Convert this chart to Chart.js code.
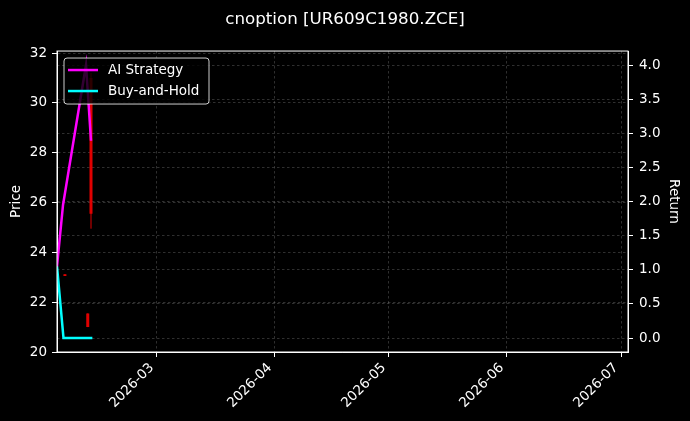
<!DOCTYPE html>
<html>
<head>
<meta charset="utf-8">
<script src="https://cdn.jsdelivr.net/npm/chart.js@4.4.1/dist/chart.umd.min.js"></script>
<style>
  html, body { margin: 0; padding: 0; background: #000; }
  #wrap { width: 690px; height: 421px; }
</style>
</head>
<body>
<div id="wrap"><canvas id="chart" width="690" height="421"></canvas></div>
<script>
const chartTitle = 'cnoption [UR609C1980.ZCE]';

// return curves (right axis)
const strategyDates = ['2026-02-02T18:00', '2026-02-04T08:00', '2026-02-10T09:00', '2026-02-11T16:30'];
const strategyReturn = [1.05, 1.95, 4.0, 2.89];
const holdDates = ['2026-02-02T18:00', '2026-02-04T11:00', '2026-02-12T01:00'];
const holdReturn = [1.05, 0.0, 0.0];

// price candles (left axis)
const candleDates = ['2026-02-04T20:00', '2026-02-10T20:00', '2026-02-11T16:30'];
const candleOpen = [23.12, 21.55, 31.0];
const candleHigh = [23.12, 21.55, 31.2];
const candleLow = [23.05, 21.0, 24.95];
const candleClose = [23.05, 21.0, 25.55];

// axes
const xRange = ['2026-02-02T18:00', '2026-07-02T20:00'];
const monthTicks = ['2026-03-01', '2026-04-01', '2026-05-01', '2026-06-01', '2026-07-01'];
const priceRange = [20, 32.08];
const priceTicks = [20, 22, 24, 26, 28, 30, 32];
const returnRange = [-0.205, 4.205];
const returnTicks = [0, 0.5, 1, 1.5, 2, 2.5, 3, 3.5, 4];

const ts = s => new Date((s.length === 10 ? s + 'T00:00' : s) + 'Z').getTime();
const pts = (dates, vals) => dates.map((d, i) => ({ x: ts(d), y: vals[i] }));

const wickData = [];
const bodyData = [];
candleDates.forEach((d, i) => {
  const x = ts(d);
  wickData.push({ x, y: candleLow[i] }, { x, y: candleHigh[i] }, { x, y: null });
  bodyData.push({ x, y: candleOpen[i] }, { x, y: candleClose[i] }, { x, y: null });
});

Chart.defaults.font.family = 'DejaVu Sans';
Chart.defaults.font.size = 13.5;
Chart.defaults.color = '#fff';

const gridCommon = {
  color: 'rgba(150,150,150,0.45)',
  lineWidth: 0.7,
  tickColor: '#fff',
  tickLength: 5,
  tickWidth: 1,
  tickBorderDash: []
};
const borderCommon = { color: '#fff', width: 1, dash: [2.5, 2.5] };

const bgPlugin = {
  id: 'bg',
  beforeDraw(chart) {
    const ctx = chart.ctx;
    ctx.save();
    ctx.fillStyle = '#000';
    ctx.fillRect(0, 0, chart.width, chart.height);
    ctx.restore();
  },
  afterDraw(chart) {
    const { ctx, chartArea: a } = chart;
    ctx.save();
    ctx.strokeStyle = '#fff';
    ctx.lineWidth = 1;
    ctx.strokeRect(a.left, a.top, a.right - a.left, a.bottom - a.top);
    ctx.restore();
  }
};

const legendPlugin = {
  id: 'boxLegend',
  afterDatasetsDraw(chart) {
    const { ctx, chartArea: a } = chart;
    const items = chart.data.datasets.filter(d => d.inLegend);
    const x = a.left + 7, y = a.top + 7, w = 145, h = 46, r = 3;
    ctx.save();
    ctx.beginPath();
    ctx.roundRect(x, y, w, h, r);
    ctx.fillStyle = 'rgba(0,0,0,0.8)';
    ctx.fill();
    ctx.strokeStyle = 'rgba(255,255,255,0.8)';
    ctx.lineWidth = 1;
    ctx.stroke();
    ctx.font = '13.5px "DejaVu Sans"';
    ctx.textBaseline = 'middle';
    items.forEach((d, i) => {
      const rowY = y + 12 + i * 21;
      ctx.beginPath();
      ctx.moveTo(x + 4, rowY);
      ctx.lineTo(x + 34, rowY);
      ctx.strokeStyle = d.borderColor;
      ctx.lineWidth = d.borderWidth;
      ctx.stroke();
      ctx.fillStyle = '#fff';
      ctx.fillText(d.label, x + 44, rowY);
    });
    ctx.restore();
  }
};

new Chart(document.getElementById('chart'), {
  type: 'line',
  data: {
    datasets: [
      {
        label: 'AI Strategy',
        inLegend: true,
        data: pts(strategyDates, strategyReturn),
        yAxisID: 'y1',
        borderColor: '#ff00ff',
        borderWidth: 2.5,
        pointRadius: 0,
        tension: 0,
        order: 1
      },
      {
        label: 'Buy-and-Hold',
        inLegend: true,
        data: pts(holdDates, holdReturn),
        yAxisID: 'y1',
        borderColor: '#00ffff',
        borderWidth: 2.5,
        pointRadius: 0,
        tension: 0,
        order: 2
      },
      {
        label: 'wick',
        data: wickData,
        yAxisID: 'y',
        borderColor: '#e00000',
        borderWidth: 1,
        pointRadius: 0,
        spanGaps: false,
        order: 3
      },
      {
        label: 'body',
        data: bodyData,
        yAxisID: 'y',
        borderColor: '#e00000',
        borderWidth: 3,
        borderCapStyle: 'butt',
        pointRadius: 0,
        spanGaps: false,
        order: 3
      }
    ]
  },
  options: {
    responsive: false,
    animation: false,
    devicePixelRatio: 1,
    layout: { padding: 0 },
    plugins: {
      legend: { display: false },
      tooltip: { enabled: false },
      title: {
        display: true,
        text: chartTitle,
        color: '#fff',
        font: { size: 16.7, weight: 'normal' },
        padding: { top: 10, bottom: 21 }
      }
    },
    scales: {
      x: {
        type: 'linear',
        min: ts(xRange[0]),
        max: ts(xRange[1]),
        afterBuildTicks: s => { s.ticks = monthTicks.map(m => ({ value: ts(m) })); },
        afterFit: s => { s.height = 69; },
        grid: gridCommon,
        border: borderCommon,
        ticks: {
          minRotation: 45,
          maxRotation: 45,
          padding: 3,
          labelOffset: -5,
          color: '#fff',
          callback: v => new Date(v).toISOString().slice(0, 7)
        }
      },
      y: {
        position: 'left',
        min: priceRange[0],
        max: priceRange[1],
        afterBuildTicks: s => { s.ticks = priceTicks.map(v => ({ value: v })); },
        afterFit: s => { s.width = 57; },
        grid: gridCommon,
        border: borderCommon,
        ticks: { padding: 5, color: '#fff', callback: v => String(v) },
        title: { display: true, text: 'Price', color: '#fff', font: { size: 13.5 }, padding: { top: 8, bottom: 0 } }
      },
      y1: {
        position: 'right',
        min: returnRange[0],
        max: returnRange[1],
        afterBuildTicks: s => { s.ticks = returnTicks.map(v => ({ value: v })); },
        afterFit: s => { s.width = 62; },
        grid: gridCommon,
        border: borderCommon,
        ticks: { padding: 6, color: '#fff', callback: v => v.toFixed(1) },
        title: { display: true, text: 'Return', color: '#fff', font: { size: 13.5 }, padding: { top: 8, bottom: 0 } }
      }
    }
  },
  plugins: [bgPlugin, legendPlugin]
});
</script>
</body>
</html>
